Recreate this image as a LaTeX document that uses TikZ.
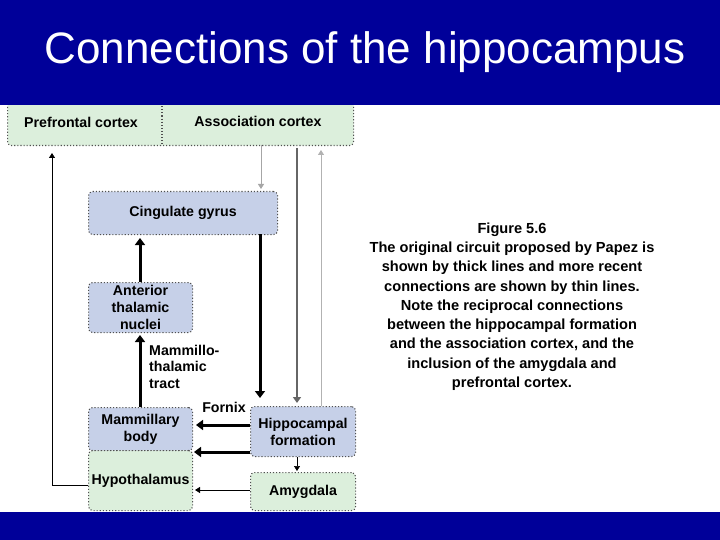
\documentclass[tikz,border=0pt]{standalone}
\usepackage{fontspec}
\setmainfont{Liberation Sans}
\usetikzlibrary{arrows.meta}
\definecolor{barblue}{HTML}{000099}
\definecolor{gfill}{HTML}{DCEFDC}
\definecolor{bfill}{HTML}{C6D0E8}
\definecolor{bord}{HTML}{505050}
\tikzset{
  box/.style={draw=bord, dotted, line width=1.1pt, rounded corners=4pt, inner sep=2pt},
  gbox/.style={box, fill=gfill},
  bbox/.style={box, fill=bfill},
  txt/.style={font=\bfseries\fontsize{14.2}{17}\selectfont, align=center, inner sep=0pt},
  thick arrow/.style={line width=3pt, -{Triangle[length=7pt,width=10pt]}},
  thin arrow/.style={line width=0.8pt, -{Triangle[length=5pt,width=6pt]}},
  lbl/.style={font=\bfseries\fontsize{14.2}{16.5}\selectfont, align=left, anchor=north west, inner sep=0pt},
}
\begin{document}
\begin{tikzpicture}[x=1pt,y=-1pt]
\useasboundingbox (0,0) rectangle (720,540);
\fill[white] (0,0) rectangle (720,540);
% top box
\node[gbox, minimum width=346pt, minimum height=55pt, anchor=north west] (top) at (7,90) {};
\node[txt] (pfc) at (81,122) {Prefrontal cortex};
\node[txt] (asc) at (258,121) {Association cortex};
\draw[bord, dotted, line width=1.1pt] (162,100) -- (162,145);
% boxes
\node[bbox, minimum width=189pt, minimum height=43pt, anchor=north west] (cg) at (88,191) {};
\node[txt] at (cg.center) {Cingulate gyrus};
\node[bbox, minimum width=104pt, minimum height=50pt, anchor=north west] (atn) at (88,282) {};
\node[txt] at (atn.center) {Anterior\\thalamic\\nuclei};
\node[bbox, minimum width=104pt, minimum height=43pt, anchor=north west] (mb) at (88,407) {};
\node[txt] at (mb.center) {Mammillary\\body};
\node[gbox, minimum width=104pt, minimum height=60pt, anchor=north west] (hyp) at (88,450) {};
\node[txt] at (hyp.center) {Hypothalamus};
\node[bbox, minimum width=105pt, minimum height=50pt, anchor=north west] (hf) at (250,406) {};
\node[txt] at (hf.center) {Hippocampal\\formation};
\node[gbox, minimum width=105pt, minimum height=38pt, anchor=north west] (amy) at (250,472) {};
\node[txt] at (amy.center) {Amygdala};
% coordinates
\coordinate (a1) at (261,145);
\coordinate (a2) at (297,148);
\coordinate (a3) at (321,150);
\coordinate (p1) at (52,153);
% arrows
\draw[thick arrow] (260,234) -- (260,398);
\draw[thin arrow, gray!70] (a1) -- (261,189);
\draw[line width=1.6pt, gray!80!black, -{Triangle[length=6pt,width=8pt]}] (a2) -- (297,403);
\draw[thin arrow, gray!60] (321,406) -- (a3);
\draw[thin arrow] (hyp.west |- 0,485) -- (52,485) -- (p1);
\draw[thick arrow] (atn.north -| 140,0) -- (140,238);
\draw[thick arrow] (mb.north -| 140,0) -- (140,335);
\draw[thick arrow] (hf.west |- 0,425) -- (196,425);
\draw[thick arrow] (hf.west |- 0,452) -- (194,452);
\draw[thin arrow] (amy.west |- 0,490) -- (195,490);
\draw[thin arrow, line width=0.6pt] (297,457) -- (297,471);
% labels
\node[lbl] (mtt) at (149,345) {Mammillo-\\thalamic\\tract};
\node[txt] (fx) at (224,407) {Fornix};
% caption
\node[font=\bfseries\fontsize{14.6}{19.3}\selectfont, align=center, anchor=north] (cap) at (512,219) {Figure 5.6\\The original circuit proposed by Papez is\\shown by thick lines and more recent\\connections are shown by thin lines.\\Note the reciprocal connections\\between the hippocampal formation\\and the association cortex, and the\\inclusion of the amygdala and\\prefrontal cortex.};
% bars
\fill[barblue] (0,0) rectangle (720,105);
\node[text=white, font=\fontsize{44}{46}\selectfont, anchor=base] (title) at (365,64) {Connections of the hippocampus};
\fill[barblue] (0,512) rectangle (720,540);
\end{tikzpicture}
\end{document}
